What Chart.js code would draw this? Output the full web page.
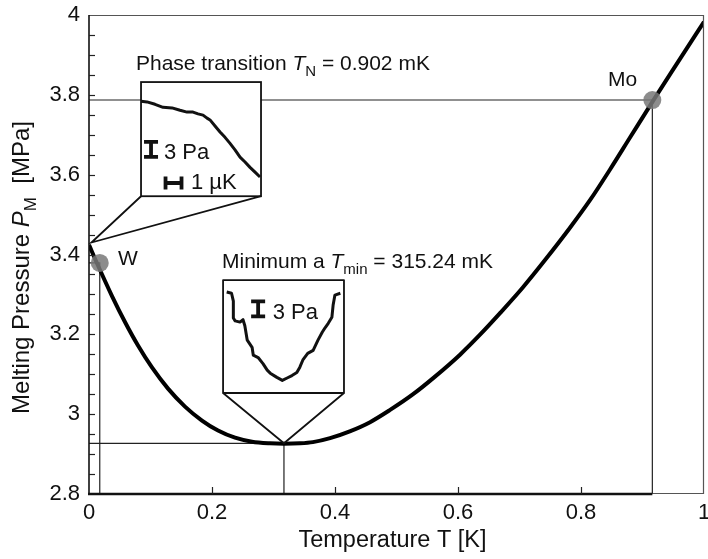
<!DOCTYPE html>
<html><head><meta charset="utf-8">
<script src="https://cdn.jsdelivr.net/npm/chart.js@4/dist/chart.umd.min.js"></script>
<style>html,body{margin:0;padding:0;background:#fff}#wrap{width:708px;height:559px}</style>
</head><body><div id="wrap"><canvas id="c" width="708" height="559"></canvas></div>
<script>
// ---------------- data ----------------
const curveT = [0, 0.013, 0.0374, 0.0585, 0.0797, 0.1024, 0.1285, 0.1561, 0.1837, 0.2098, 0.2374, 0.265, 0.2943, 0.317, 0.343, 0.364, 0.392, 0.424, 0.457, 0.489, 0.527, 0.5626, 0.6033, 0.6358, 0.6683, 0.7057, 0.7415, 0.7821, 0.8146, 0.8472, 0.8797, 0.9171, 0.961, 1.0];
const curveP = [3.424, 3.378, 3.296, 3.231, 3.172, 3.117, 3.064, 3.019, 2.984, 2.959, 2.941, 2.931, 2.927, 2.926, 2.927, 2.930, 2.940, 2.957, 2.980, 3.010, 3.050, 3.094, 3.149, 3.199, 3.253, 3.318, 3.386, 3.467, 3.536, 3.613, 3.693, 3.785, 3.890, 3.983];

const xTickValues = [0, 0.2, 0.4, 0.6, 0.8, 1];
const xTickLabels = ['0', '0.2', '0.4', '0.6', '0.8', '1'];
const yTickValues = [2.8, 3.0, 3.2, 3.4, 3.6, 3.8, 4.0];
const yTickLabels = ['2.8', '3', '3.2', '3.4', '3.6', '3.8', '4'];
const yMinorStep = 0.05;

const fixedPointNames = ['W', 'Mo'];
const fixedPointT = [0.0175, 0.916];
const fixedPointP = [3.379, 3.787];
const minimumT = 0.317;
const minimumP = 2.927;

// inset "phase transition": ΔT in µK, ΔP in Pa (relative to inset top)
const transitionDT = [0, 0.3, 0.7, 1.1, 1.55, 1.95, 2.3, 2.6, 2.85, 3.1, 3.3, 3.45, 3.7, 3.95, 4.2, 4.45, 4.7, 4.95, 5.2, 5.45, 5.7, 5.95];
const transitionDP = [-3.2, -3.3, -3.7, -4.2, -4.3, -4.7, -5.0, -5.0, -5.3, -5.5, -6.0, -6.3, -7.3, -8.3, -9.2, -10.2, -11.3, -12.5, -13.3, -14.2, -15.0, -15.8];
// inset "minimum": relative temperature position in window (0..1), ΔP in Pa
const minimumDT = [0.03, 0.07, 0.085, 0.085, 0.10, 0.14, 0.165, 0.18, 0.20, 0.24, 0.25, 0.29, 0.33, 0.365, 0.39, 0.445, 0.49, 0.53, 0.57, 0.61, 0.635, 0.66, 0.70, 0.745, 0.785, 0.82, 0.845, 0.87, 0.90, 0.91, 0.925, 0.97];
const minimumDP = [-2.0, -2.2, -3.5, -6.3, -6.8, -7.0, -6.6, -7.6, -10.0, -11.2, -12.5, -12.9, -13.9, -15.0, -15.5, -16.2, -16.7, -16.3, -15.9, -15.4, -14.5, -13.3, -12.2, -11.7, -10.0, -8.7, -7.9, -7.2, -6.2, -4.2, -2.5, -2.2];

// ---------------- layout / style ----------------
const FONT = "'Liberation Sans', Arial, Helvetica, sans-serif";
const insetLayout = {
  transition: { t0: 0.0846, t1: 0.2797, pTop: 3.832, pBot: 3.546, anchorT: 0.004, anchorP: 3.43,
                xMin: 0, xMax: 6, yMin: -19, yMax: 0 },
  minimum:    { t0: 0.218, t1: 0.4146, pTop: 3.336, pBot: 3.053, anchorT: minimumT, anchorP: minimumP,
                xMin: 0, xMax: 1, yMin: -18.8, yMax: 0 }
};
const labelPos = {
  transition: { t: 0.0764, p: 3.862 },
  minimum: { t: 0.2163, p: 3.366 },
  W: { t: 0.047, p: 3.373 },
  Mo: { t: 0.844, p: 3.822 }
};

function fontFor(part, size) {
  if (part.s === 'i') return `italic ${size}px ${FONT}`;
  if (part.s === 'sub') return `${Math.round(size * 0.7)}px ${FONT}`;
  return `${size}px ${FONT}`;
}
function drawRich(ctx, parts, x, y, size, align) {
  let w = 0;
  for (const p of parts) { ctx.font = fontFor(p, size); w += ctx.measureText(p.t).width; }
  let cx = align === 'center' ? x - w / 2 : x;
  ctx.textAlign = 'left';
  ctx.textBaseline = 'alphabetic';
  for (const p of parts) {
    ctx.font = fontFor(p, size);
    const dy = p.s === 'sub' ? size * 0.28 : 0;
    ctx.fillText(p.t, cx, y + dy);
    cx += ctx.measureText(p.t).width;
  }
}

const framePlugin = {
  id: 'frame',
  afterDatasetsDraw(chart) {
    const { ctx, chartArea: a, scales: { x, y } } = chart;
    ctx.save();
    ctx.lineCap = 'butt';
    ctx.strokeStyle = '#555'; ctx.lineWidth = 1.2;
    ctx.beginPath(); ctx.moveTo(a.left, a.top + 0.5); ctx.lineTo(a.right - 0.5, a.top + 0.5); ctx.lineTo(a.right - 0.5, a.bottom); ctx.stroke();
    // bottom: thin grey beyond the Mo guide, as in the original
    const xMo = x.getPixelForValue(fixedPointT[1]);
    ctx.beginPath(); ctx.moveTo(xMo, a.bottom - 0.5); ctx.lineTo(a.right, a.bottom - 0.5); ctx.stroke();
    ctx.strokeStyle = '#111'; ctx.lineWidth = 1.6;
    ctx.beginPath(); ctx.moveTo(a.left, a.top); ctx.lineTo(a.left, a.bottom); ctx.stroke();
    ctx.lineWidth = 2.4;
    ctx.beginPath(); ctx.moveTo(a.left - 1, a.bottom); ctx.lineTo(xMo, a.bottom); ctx.stroke();
    ctx.lineWidth = 1.2; ctx.strokeStyle = '#222';
    const n = Math.round((y.max - y.min) / yMinorStep);
    for (let i = 1; i < n; i++) {
      const py = Math.round(y.getPixelForValue(y.min + i * yMinorStep)) + 0.5;
      ctx.beginPath(); ctx.moveTo(a.left, py); ctx.lineTo(a.left + 6, py); ctx.stroke();
    }
    for (const v of xTickValues) {
      if (v <= x.min || v >= x.max) continue;
      const px = Math.round(x.getPixelForValue(v)) + 0.5;
      ctx.beginPath(); ctx.moveTo(px, a.bottom); ctx.lineTo(px, a.bottom - 7); ctx.stroke();
    }
    ctx.restore();
  },
  afterDraw(chart) {
    const { ctx, chartArea: a, scales: { x, y } } = chart;
    ctx.save();
    ctx.fillStyle = '#111';
    drawRich(ctx, [{ t: 'Temperature T [K]' }], (a.left + a.right) / 2 - 4, 547, 23.5, 'center');
    ctx.save();
    ctx.translate(29, (a.top + a.bottom) / 2 + 13);
    ctx.rotate(-Math.PI / 2);
    drawRich(ctx, [{ t: 'Melting Pressure ' }, { t: 'P', s: 'i' }, { t: 'M', s: 'sub' }, { t: '  [MPa]' }], 0, 0, 24, 'center');
    ctx.restore();
    drawRich(ctx, [{ t: 'Phase transition ' }, { t: 'T', s: 'i' }, { t: 'N', s: 'sub' }, { t: ' = 0.902 mK' }],
      x.getPixelForValue(labelPos.transition.t), y.getPixelForValue(labelPos.transition.p), 21, 'left');
    drawRich(ctx, [{ t: 'Minimum a ' }, { t: 'T', s: 'i' }, { t: 'min', s: 'sub' }, { t: ' = 315.24 mK' }],
      x.getPixelForValue(labelPos.minimum.t), y.getPixelForValue(labelPos.minimum.p), 21, 'left');
    drawRich(ctx, [{ t: fixedPointNames[0] }], x.getPixelForValue(labelPos.W.t), y.getPixelForValue(labelPos.W.p), 21, 'left');
    drawRich(ctx, [{ t: fixedPointNames[1] }], x.getPixelForValue(labelPos.Mo.t), y.getPixelForValue(labelPos.Mo.p), 21, 'left');

    function drawInset(L, dts, dps, bars, texts) {
      const x0 = x.getPixelForValue(L.t0), x1 = x.getPixelForValue(L.t1);
      const yT = y.getPixelForValue(L.pTop), yB = y.getPixelForValue(L.pBot);
      const ax = x.getPixelForValue(L.anchorT), ay = y.getPixelForValue(L.anchorP);
      const mx = v => x0 + (v - L.xMin) / (L.xMax - L.xMin) * (x1 - x0);
      const my = v => yT + (L.yMax - v) / (L.yMax - L.yMin) * (yB - yT);
      ctx.fillStyle = '#fff';
      ctx.fillRect(x0, yT, x1 - x0, yB - yT);
      ctx.strokeStyle = '#111'; ctx.lineWidth = 1.8;
      ctx.strokeRect(x0, yT, x1 - x0, yB - yT);
      ctx.beginPath(); ctx.moveTo(x0, yB); ctx.lineTo(ax, ay); ctx.lineTo(x1, yB); ctx.stroke();
      ctx.lineWidth = 3; ctx.lineJoin = 'round';
      ctx.beginPath();
      dts.forEach((v, i) => { const px = mx(v), py = my(dps[i]); if (i) ctx.lineTo(px, py); else ctx.moveTo(px, py); });
      ctx.stroke();
      ctx.lineWidth = 3.8; ctx.lineCap = 'butt';
      for (const b of bars) {
        ctx.beginPath();
        if (b.type === 'v') {
          const px = mx(b.x), p1 = my(b.y1), p2 = my(b.y2);
          ctx.moveTo(px, p1); ctx.lineTo(px, p2);
          ctx.moveTo(px - 7, p1 + 1.5); ctx.lineTo(px + 7, p1 + 1.5);
          ctx.moveTo(px - 7, p2 - 1.5); ctx.lineTo(px + 7, p2 - 1.5);
        } else {
          const py = my(b.y), p1 = mx(b.x1), p2 = mx(b.x2);
          ctx.moveTo(p1, py); ctx.lineTo(p2, py);
          ctx.moveTo(p1 + 1.5, py - 6.5); ctx.lineTo(p1 + 1.5, py + 6.5);
          ctx.moveTo(p2 - 1.5, py - 6.5); ctx.lineTo(p2 - 1.5, py + 6.5);
        }
        ctx.stroke();
      }
      ctx.fillStyle = '#111';
      for (const t of texts) drawRich(ctx, [{ t: t.t }], mx(t.x), my(t.y), 22, 'left');
    }
    drawInset(insetLayout.transition, transitionDT, transitionDP,
      [{ type: 'v', x: 0.5, y1: -9.7, y2: -12.7 }, { type: 'h', y: -16.8, x1: 1.15, x2: 2.1 }],
      [{ t: '3 Pa', x: 1.15, y: -12.8 }, { t: '1 \u00B5K', x: 2.5, y: -17.8 }]);
    drawInset(insetLayout.minimum, minimumDT, minimumDP,
      [{ type: 'v', x: 0.29, y1: -3.3, y2: -6.3 }],
      [{ t: '3 Pa', x: 0.41, y: -6.4 }]);
    ctx.restore();
  }
};

const guide = (t, p) => [{ x: 0, y: p }, { x: t, y: p }, { x: t, y: 2.8 }];
const guideStyle = { showLine: true, borderColor: '#222', borderWidth: 1.2, pointRadius: 0, fill: false };

new Chart(document.getElementById('c'), {
  type: 'scatter',
  data: {
    datasets: [
      { data: fixedPointT.map((t, i) => ({ x: t, y: fixedPointP[i] })), pointRadius: 9, pointBorderWidth: 0,
        pointBackgroundColor: 'rgba(120,120,120,0.85)', showLine: false },
      { data: curveT.map((t, i) => ({ x: t, y: curveP[i] })), showLine: true, borderColor: '#000', borderWidth: 4,
        pointRadius: 0, cubicInterpolationMode: 'monotone' },
      Object.assign({ data: guide(fixedPointT[0], fixedPointP[0]) }, guideStyle),
      Object.assign({ data: guide(fixedPointT[1], fixedPointP[1]) }, guideStyle),
      Object.assign({ data: guide(minimumT, minimumP) }, guideStyle)
    ]
  },
  options: {
    responsive: false, animation: false, devicePixelRatio: 1,
    layout: { autoPadding: false, padding: { top: 15, right: 4, left: 0, bottom: 0 } },
    plugins: { legend: { display: false }, tooltip: { enabled: false } },
    scales: {
      x: {
        type: 'linear', min: 0, max: 1,
        grid: { display: false, drawTicks: false }, border: { display: false },
        afterBuildTicks: s => { s.ticks = xTickValues.map(v => ({ value: v })); },
        ticks: { callback: (v, i) => xTickLabels[i], font: { family: FONT, size: 22 }, color: '#111', padding: 6, maxRotation: 0, autoSkip: false },
        afterFit: s => { s.height = 65; s.paddingLeft = 0; s.paddingRight = 0; }
      },
      y: {
        type: 'linear', min: 2.8, max: 4,
        grid: { display: false, drawTicks: false }, border: { display: false },
        afterBuildTicks: s => { s.ticks = yTickValues.map(v => ({ value: v })); },
        ticks: { callback: (v, i) => yTickLabels[i], font: { family: FONT, size: 22 }, color: '#111', padding: 9, autoSkip: false },
        afterFit: s => { s.width = 89; s.paddingTop = 0; s.paddingBottom = 0; }
      }
    }
  },
  plugins: [framePlugin]
});
</script></body></html>
